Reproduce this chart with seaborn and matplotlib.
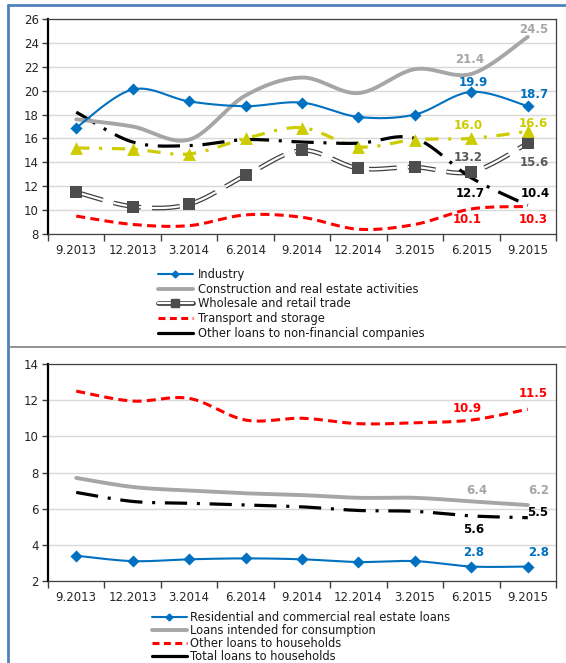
import numpy as np
import matplotlib
matplotlib.use("Agg")
import matplotlib.pyplot as plt
from matplotlib.lines import Line2D
import seaborn as sns

# ---- data -----------------------------------------------------------------
periods = ["9.2013", "12.2013", "3.2014", "6.2014", "9.2014",
           "12.2014", "3.2015", "6.2015", "9.2015"]

# companies, %
industry = [16.9, 20.1, 19.1, 18.7, 19.0, 17.8, 18.0, 19.9, 18.7]
construction = [17.6, 17.0, 15.9, 19.6, 21.1, 19.8, 21.8, 21.4, 24.5]
wholesale = [11.5, 10.3, 10.5, 12.9, 15.0, 13.5, 13.6, 13.2, 15.6]
transport = [9.5, 8.8, 8.7, 9.6, 9.4, 8.4, 8.8, 10.1, 10.3]
other_sectors = [15.2, 15.1, 14.7, 16.0, 16.9, 15.3, 15.9, 16.0, 16.6]
other_nfc = [18.2, 15.7, 15.4, 15.9, 15.7, 15.6, 16.0, 12.7, 10.4]

# households, %
residential = [3.4, 3.1, 3.2, 3.25, 3.2, 3.05, 3.1, 2.8, 2.8]
consumption = [7.7, 7.2, 7.0, 6.85, 6.75, 6.6, 6.6, 6.4, 6.2]
other_households = [12.5, 11.95, 12.1, 10.9, 11.0, 10.7, 10.75, 10.9, 11.5]
total_households = [6.9, 6.4, 6.3, 6.2, 6.1, 5.9, 5.85, 5.6, 5.5]

# ---- style ----------------------------------------------------------------
sns.set_theme(style="white")
plt.rcParams["font.family"] = ["DejaVu Sans"]
plt.rcParams["lines.scale_dashes"] = False
plt.rcParams["text.color"] = "#1a1a1a"

BLUE = "#0070C0"
GRAY = "#A6A6A6"
DGRAY = "#404040"
RED = "#FF0000"
YELLOW = "#CCCC00"
BLACK = "#000000"

RED_DASH = (0, (6.5, 3.8))
BLACK_DASH = (0, (16, 7, 2.2, 7))
YELLOW_DASH = (0, (9.5, 7, 2.2, 7))
HOLLOW_DASH = (0, (20, 8))


def smooth(values, n=24):
    """Smoothed path through the points (cubic Bezier, Catmull-Rom tangents)."""
    y = np.asarray(values, float)
    x = np.arange(len(y), dtype=float)
    m = len(y)
    xs, ys = [], []
    for i in range(m - 1):
        p0, p3 = max(i - 1, 0), min(i + 2, m - 1)
        c1 = (x[i] + (x[i + 1] - x[p0]) / 6, y[i] + (y[i + 1] - y[p0]) / 6)
        c2 = (x[i + 1] - (x[p3] - x[i]) / 6, y[i + 1] - (y[p3] - y[i]) / 6)
        t = np.linspace(0, 1, n, endpoint=(i == m - 2))
        a, b, c, d = (1 - t) ** 3, 3 * (1 - t) ** 2 * t, 3 * (1 - t) * t ** 2, t ** 3
        xs.append(a * x[i] + b * c1[0] + c * c2[0] + d * x[i + 1])
        ys.append(a * y[i] + b * c1[1] + c * c2[1] + d * y[i + 1])
    return np.concatenate(xs), np.concatenate(ys)


def curve(ax, values, **kw):
    xs, ys = smooth(values)
    sns.lineplot(x=xs, y=ys, ax=ax, sort=False, estimator=None, **kw)


def markers(ax, values, **kw):
    sns.scatterplot(x=np.arange(len(values)), y=values, ax=ax, zorder=6,
                    linewidth=0, **kw)


def style_axes(ax, ymin, ymax):
    ax.set_xlim(-0.5, len(periods) - 0.5)
    ax.set_ylim(ymin, ymax)
    ax.set_yticks(np.arange(ymin, ymax + 1, 2))
    ax.set_xticks(np.arange(-0.5, len(periods), 1))
    ax.set_xticklabels([])
    ax.set_xticks(np.arange(len(periods)), minor=True)
    ax.set_xticklabels(periods, minor=True)
    ax.tick_params(axis="x", which="major", length=5, width=1, color=DGRAY,
                   direction="out", bottom=True)
    ax.tick_params(axis="x", which="minor", length=0, pad=7, labelsize=8.5,
                   bottom=True)
    ax.tick_params(axis="y", length=4.5, width=1, color=DGRAY, pad=2,
                   labelsize=8.5, direction="out", left=True)
    ax.grid(axis="y", color="#D9D9D9", lw=1)
    ax.set_axisbelow(True)
    for s in ("top", "right", "bottom"):
        ax.spines[s].set_color(DGRAY)
        ax.spines[s].set_linewidth(0.9)
    ax.spines["left"].set_color(BLACK)
    ax.spines["left"].set_linewidth(1.6)
    ax.set_xlabel("")
    ax.set_ylabel("")


def label(ax, idx, values, dx, dy, color):
    v = values[idx]
    ax.annotate(f"{v:.1f}", (idx, v), xytext=(dx, dy), textcoords="offset pixels",
                ha="center", va="center", fontsize=8.5, fontweight="bold",
                color=color, zorder=10)


fig = plt.figure(figsize=(5.66, 6.63), dpi=100)

# ---- companies panel --------------------------------------------------------
ax1 = fig.add_axes([48 / 566, 1 - 234 / 663, 508 / 566, 215 / 663])
curve(ax1, transport, color=RED, lw=2.2, linestyle=RED_DASH)
curve(ax1, wholesale, color=DGRAY, lw=3.4, linestyle=HOLLOW_DASH)
curve(ax1, wholesale, color="white", lw=1.6, linestyle=HOLLOW_DASH)
markers(ax1, wholesale, marker="s", s=75, color="#4D4D4D")
curve(ax1, other_sectors, color=YELLOW, lw=2.3, linestyle=YELLOW_DASH)
markers(ax1, other_sectors, marker="^", s=85, color=YELLOW)
curve(ax1, other_nfc, color=BLACK, lw=2.3, linestyle=BLACK_DASH)
curve(ax1, construction, color=GRAY, lw=2.8)
curve(ax1, industry, color=BLUE, lw=1.5)
markers(ax1, industry, marker="D", s=38, color=BLUE)
style_axes(ax1, 8, 26)

label(ax1, 8, construction, 6, 7, GRAY)
label(ax1, 7, construction, -2, 14, GRAY)
label(ax1, 7, industry, 2, 9, BLUE)
label(ax1, 8, industry, 6, 12, BLUE)
label(ax1, 7, other_sectors, -3, 13, YELLOW)
label(ax1, 8, other_sectors, 6, 8, YELLOW)
label(ax1, 7, wholesale, -3, 14, "#595959")
label(ax1, 8, wholesale, 7, -19, "#595959")
label(ax1, 7, other_nfc, -1, -16, BLACK)
label(ax1, 8, other_nfc, 7, 12, BLACK)
label(ax1, 7, transport, -4, -11, RED)
label(ax1, 8, transport, 5, -13, RED)

h_ind = Line2D([], [], color=BLUE, lw=1.5, marker="D", markersize=3.5)
h_con = Line2D([], [], color=GRAY, lw=2.8)
h_whl = (Line2D([], [], color=DGRAY, lw=3.4, solid_capstyle="round"),
         Line2D([], [], color="white", lw=1.6, solid_capstyle="round"),
         Line2D([], [], ls="none", marker="s", markersize=6, color="#4D4D4D"))
h_trn = Line2D([], [], color=RED, lw=2.2, linestyle=(0, (5, 3.2)))
h_oth = Line2D([], [], color=BLACK, lw=2.3)
fig.legend([h_ind, h_con, h_whl, h_trn, h_oth],
           ["Industry", "Construction and real estate activities",
            "Wholesale and retail trade", "Transport and storage",
            "Other loans to non-financial companies"],
           loc="upper left", bbox_to_anchor=(158 / 566, 1 - 268 / 663),
           frameon=False, fontsize=8.3, handlelength=3.0, handletextpad=0.45,
           labelspacing=0.15, borderpad=0, borderaxespad=0)

# ---- households panel -------------------------------------------------------
ax2 = fig.add_axes([48 / 566, 1 - 581 / 663, 508 / 566, 217 / 663])
curve(ax2, other_households, color=RED, lw=2.2, linestyle=RED_DASH)
curve(ax2, total_households, color=BLACK, lw=2.3, linestyle=BLACK_DASH)
curve(ax2, consumption, color=GRAY, lw=2.8)
curve(ax2, residential, color=BLUE, lw=1.5)
markers(ax2, residential, marker="D", s=38, color=BLUE)
style_axes(ax2, 2, 14)

label(ax2, 8, other_households, 5, 16, RED)
label(ax2, 7, other_households, -4, 12, RED)
label(ax2, 7, consumption, 5, 11, GRAY)
label(ax2, 8, consumption, 11, 15, GRAY)
label(ax2, 7, total_households, 2, -14, BLACK)
label(ax2, 8, total_households, 10, 5, BLACK)
label(ax2, 7, residential, 2, 14, BLUE)
label(ax2, 8, residential, 11, 14, BLUE)

g_res = Line2D([], [], color=BLUE, lw=1.5, marker="D", markersize=3.5)
g_con = Line2D([], [], color=GRAY, lw=2.8)
g_oth = Line2D([], [], color=RED, lw=2.2, linestyle=(0, (5, 3.2)))
g_tot = Line2D([], [], color=BLACK, lw=2.3)
fig.legend([g_res, g_con, g_oth, g_tot],
           ["Residential and commercial real estate loans",
            "Loans intended for consumption", "Other loans to households",
            "Total loans to households"],
           loc="upper left", bbox_to_anchor=(152 / 566, 1 - 611 / 663),
           frameon=False, fontsize=8.3, handlelength=3.0, handletextpad=0.3,
           labelspacing=0.0, borderpad=0, borderaxespad=0)

# ---- panel frame lines ------------------------------------------------------
W, H = 566, 663
fig.add_artist(Line2D([8 / W, 8 / W], [0, 1 - 5 / H], color="#4F81BD", lw=2.0,
                      transform=fig.transFigure))
fig.add_artist(Line2D([8 / W, 1], [1 - 5 / H, 1 - 5 / H], color="#4F81BD", lw=2.0,
                      transform=fig.transFigure))
fig.add_artist(Line2D([9 / W, 1], [1 - 347 / H, 1 - 347 / H], color="#808080",
                      lw=1.2, transform=fig.transFigure))

fig.savefig("out.png", dpi=100, facecolor="white")
